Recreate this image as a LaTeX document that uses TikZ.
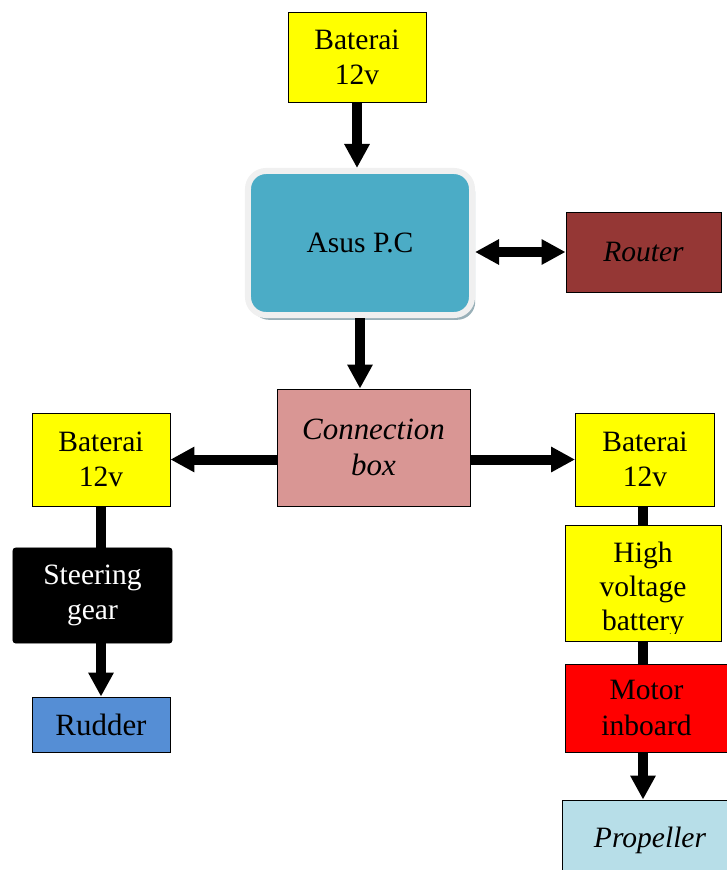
\documentclass[tikz,border=0pt]{standalone}
\usepackage{fontspec}
\setmainfont{Liberation Serif}
\usetikzlibrary{arrows.meta,shadows,positioning}
\definecolor{batyellow}{HTML}{FFFF00}
\definecolor{pcblue}{HTML}{4BACC6}
\definecolor{pcframe}{HTML}{F0F0F0}
\definecolor{pcshadow}{HTML}{7F9CA6}
\definecolor{routerred}{HTML}{953735}
\definecolor{connpink}{HTML}{D99694}
\definecolor{rudderblue}{HTML}{558ED5}
\definecolor{propblue}{HTML}{B7DEE8}

\begin{document}
\begin{tikzpicture}[x=0.025cm,y=-0.025cm,
  box/.style={draw=black,line width=0.6pt,align=center,inner sep=0pt,font=\fontsize{21}{25}\selectfont},
  bat/.style={box,fill=batyellow,minimum width=3.45cm,minimum height=2.3cm},
  link/.style={line width=0.25cm},
  arr/.style={link,-{Triangle[length=0.6cm,width=0.6cm]}},
  twoarr/.style={link,{Triangle[length=0.6cm,width=0.6cm]}-{Triangle[length=0.6cm,width=0.6cm]}},]
\useasboundingbox (0,0) rectangle (726,870);
\node (bat1) at (357,57)[bat,minimum height=2.25cm] {Baterai\\12v};
\node (asus) at (360,243)[box,draw=pcframe,fill=pcblue,line width=0.15cm,rounded corners=0.45cm,minimum width=5.6cm,minimum height=3.6cm,drop shadow={shadow xshift=0.08cm,shadow yshift=-0.12cm,fill=pcshadow,opacity=0.8}] {Asus P.C};
\node (router) at (643.5,252)[box,fill=routerred,minimum width=3.875cm,minimum height=2cm] {\itshape Router};
\node (conn) at (373.5,447.5)[box,fill=connpink,minimum width=4.825cm,minimum height=2.925cm,font=\fontsize{22}{26}\selectfont\itshape] {Connection\\box};
\node (batL) at (101,459.5)[bat,minimum height=2.325cm] {Baterai\\12v};
\node (steer) at (92.5,595.5)[box,fill=black,text=white,rounded corners=2pt,minimum width=3.975cm,minimum height=2.375cm] {Steering\\gear};
\node (rudder) at (101,724.5)[box,fill=rudderblue,minimum width=3.45cm,minimum height=1.375cm,font=\fontsize{22}{26}\selectfont] {Rudder};
\node (batR) at (645,459.5)[bat,minimum width=3.475cm,minimum height=2.325cm] {Baterai\\12v};
\node (hv) at (643,583)[bat,minimum width=3.9cm,minimum height=2.9cm] {};
\begin{scope}
\clip (hv.north west) rectangle ([yshift=0.2cm]hv.south east);
\node (hvtext) at ([yshift=-0.16cm]hv.center)[align=center,font=\fontsize{21}{24}\selectfont] {High\\voltage\\battery};
\end{scope}
\node (motor) at (646.5,708)[box,fill=red,minimum width=4.075cm,minimum height=2.2cm] {Motor\\inboard};
\node (prop) at (650,840)[box,fill=propblue,minimum width=4.4cm,minimum height=2cm] {\itshape Propeller};

\draw[arr] (bat1.south) -- (bat1.south |- asus.north);
\draw[twoarr] (asus.east |- router) -- (router.west);
\draw[arr] (asus.south) -- (asus.south |- conn.north);
\draw[arr] (conn.west |- batL) -- (batL.east);
\draw[arr] (conn.east |- batR) -- (batR.west);
\draw[link] (batL.south) -- (batL.south |- steer.north);
\draw[arr] (batL.south |- steer.south) -- (rudder.north);
\draw[link] (hv.north |- batR.south) -- (hv.north);
\draw[link] (hv.south) -- (hv.south |- motor.north);
\draw[arr] (hv.south |- motor.south) -- (hv.south |- prop.north);
\end{tikzpicture}
\end{document}
